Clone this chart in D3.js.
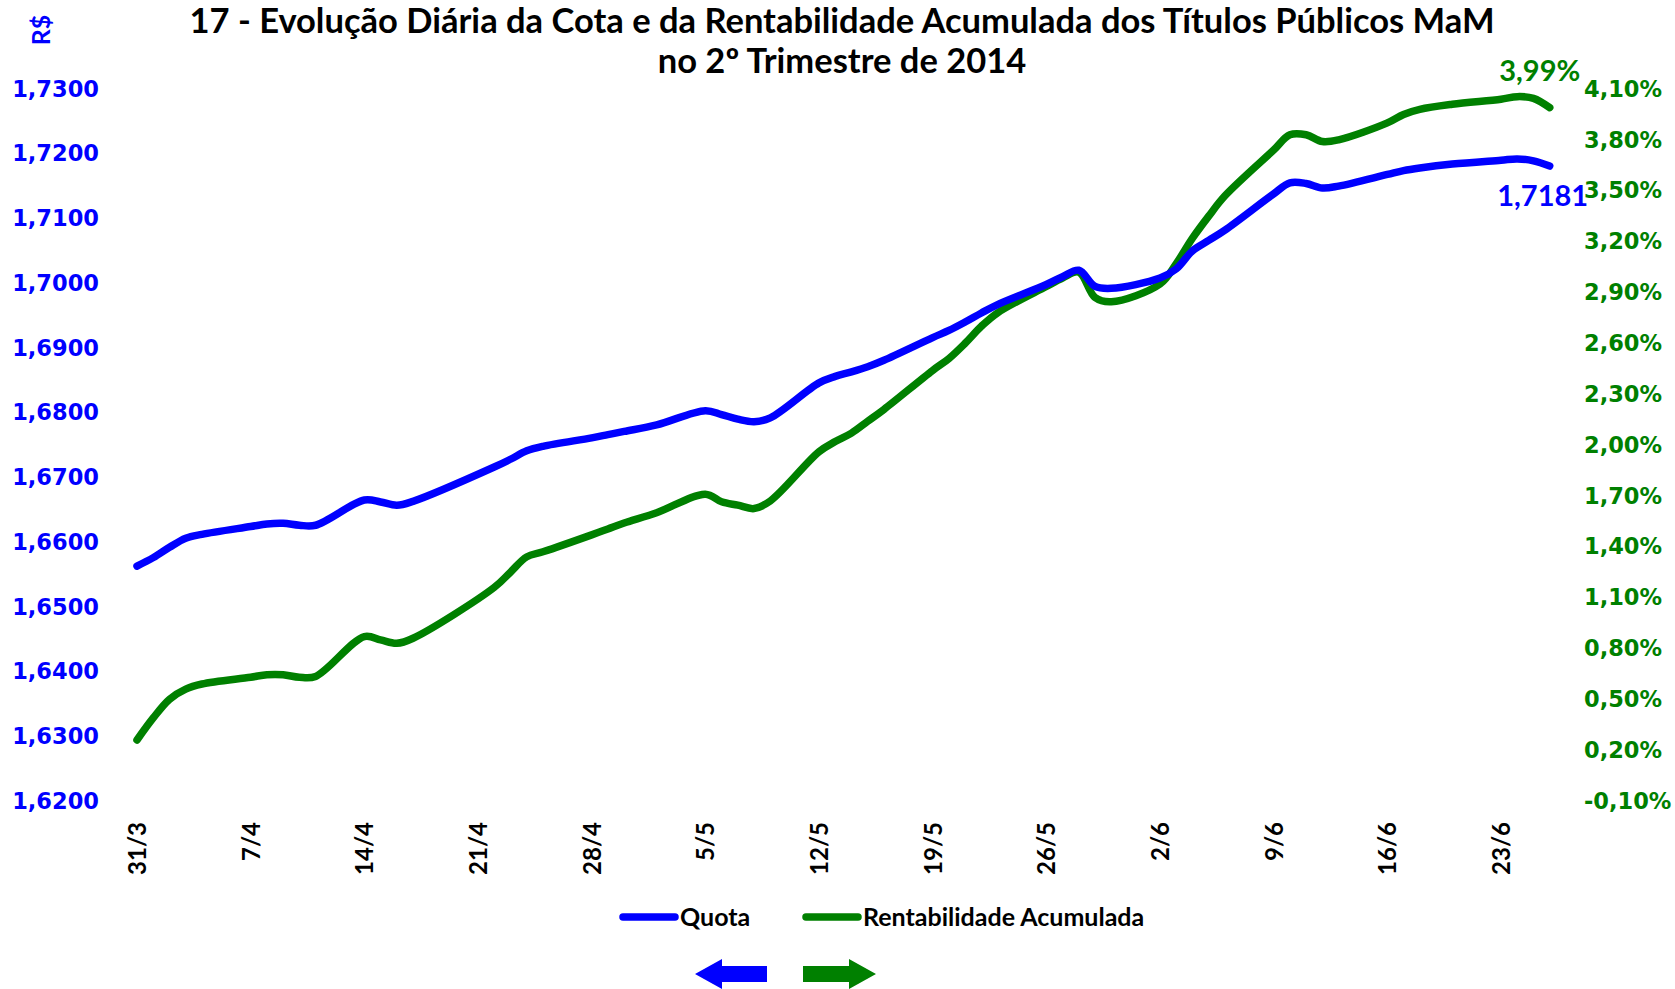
<!DOCTYPE html>
<html>
<head>
<meta charset="utf-8">
<script src="https://cdn.jsdelivr.net/npm/d3@7"></script>
<style>
  body { margin: 0; background: #fff; }
  svg { display: block; }
</style>
</head>
<body>
<script>
// business days of the quarter (dd/mm, 2014)
const dates = [
  "31/3","1/4","2/4","3/4","4/4","7/4","8/4","9/4","10/4","11/4",
  "14/4","15/4","16/4","17/4","22/4","23/4","24/4","25/4",
  "28/4","29/4","30/4","2/5","5/5","6/5","7/5","8/5","9/5",
  "12/5","13/5","14/5","15/5","16/5","19/5","20/5","21/5","22/5","23/5",
  "26/5","27/5","28/5","29/5","30/5","2/6","3/6","4/6","5/6","6/6",
  "9/6","10/6","11/6","12/6","13/6","16/6","17/6","18/6","20/6",
  "23/6","24/6","25/6","26/6"
];

// Quota (R$) - left axis
const quota = [
  1.6563,1.6576,1.6592,1.6606,1.6612,1.6624,1.6628,1.6629,1.6626,1.6626,
  1.6665,1.6662,1.6657,1.6663,1.6716,1.6728,1.6741,1.6748,
  1.6761,1.6766,1.6771,1.6781,1.6803,1.6797,1.6790,1.6786,1.6792,
  1.6846,1.6856,1.6863,1.6871,1.6881,1.6916,1.6927,1.6940,1.6954,1.6967,
  1.6998,1.7010,1.7020,1.6995,1.6992,1.7008,1.7022,1.7050,1.7066,1.7082,
  1.7138,1.7155,1.7154,1.7147,1.7150,1.7168,1.7174,1.7178,1.7184,
  1.7190,1.7192,1.7189,1.7181
];

// Rentabilidade Acumulada (%) - right axis
const rentab = [
  0.26,0.39,0.50,0.56,0.59,0.63,0.645,0.645,0.63,0.635,
  0.87,0.85,0.83,0.86,1.16,1.25,1.34,1.37,
  1.47,1.505,1.54,1.60,1.71,1.665,1.645,1.625,1.67,
  1.96,2.02,2.07,2.14,2.21,2.44,2.51,2.60,2.70,2.78,
  2.935,2.985,3.02,2.87,2.845,2.95,3.07,3.22,3.35,3.47,
  3.74,3.83,3.83,3.79,3.80,3.90,3.95,3.98,4.01,
  4.04,4.055,4.045,3.99
];

const xTicks = ["31/3","7/4","14/4","21/4","28/4","5/5","12/5","19/5","26/5","2/6","9/6","16/6","23/6"];
const leftTicks = [1.62,1.63,1.64,1.65,1.66,1.67,1.68,1.69,1.70,1.71,1.72,1.73];
const rightTicks = [-0.10,0.20,0.50,0.80,1.10,1.40,1.70,2.00,2.30,2.60,2.90,3.20,3.50,3.80,4.10];

const width = 1675, height = 989;
const blue = "#0000FF", green = "#008000";
const calibri = "Lato, 'Open Sans', sans-serif";
const verdana = "'DejaVu Sans', Verdana, sans-serif";

const locale = d3.formatLocale({decimal: ",", thousands: ".", grouping: [3], currency: ["R$ ", ""], minus: "-"});
const fmtQuota = locale.format(".4f");
const fmtPct = v => locale.format(".2f")(v) + "%";

const parse = d3.timeParse("%d/%m/%Y");
const toDate = s => parse(s + "/2014");

const svg = d3.select("body").append("svg")
  .attr("width", width)
  .attr("height", height);

const x = d3.scaleTime()
  .domain([toDate("31/3"), toDate("23/6")])
  .range([137, 1501]);

const yL = d3.scaleLinear()
  .domain([1.62, 1.73])
  .range([801, 89]);

const yR = d3.scaleLinear()
  .domain([-0.10, 4.10])
  .range([801, 89]);

// title
const title = svg.append("text")
  .attr("x", 842)
  .attr("y", 33)
  .attr("text-anchor", "middle")
  .style("font-family", calibri)
  .style("font-weight", "bold")
  .style("font-size", "34.5px");
title.append("tspan").attr("x", 842).text("17 - Evolução Diária da Cota e da Rentabilidade Acumulada dos Títulos Públicos MaM");
title.append("tspan").attr("x", 842).attr("dy", 40).text("no 2º Trimestre de 2014");

// R$ unit label
svg.append("text")
  .attr("transform", "translate(50,30) rotate(-90)")
  .attr("text-anchor", "middle")
  .style("font-family", calibri)
  .style("font-weight", "bold")
  .style("font-size", "25px")
  .style("fill", blue)
  .text("R$");

// left axis
svg.append("g")
  .attr("transform", "translate(99,0)")
  .call(d3.axisLeft(yL).tickValues(leftTicks).tickFormat(fmtQuota).tickSize(0).tickPadding(0))
  .call(g => g.select(".domain").remove())
  .selectAll("text")
  .style("font-family", verdana)
  .style("font-weight", "bold")
  .style("font-size", "22.5px")
  .style("fill", blue);

// right axis
svg.append("g")
  .attr("transform", "translate(1584,0)")
  .call(d3.axisRight(yR).tickValues(rightTicks).tickFormat(fmtPct).tickSize(0).tickPadding(0))
  .call(g => g.select(".domain").remove())
  .selectAll("text")
  .style("font-family", verdana)
  .style("font-weight", "bold")
  .style("font-size", "22.5px")
  .style("fill", green);

// x axis
svg.append("g")
  .attr("transform", "translate(0,801)")
  .call(d3.axisBottom(x).tickValues(xTicks.map(toDate)).tickFormat(d3.timeFormat("%-d/%-m")).tickSize(0))
  .call(g => g.select(".domain").remove())
  .selectAll("text")
  .attr("transform", "rotate(-90)")
  .attr("x", -21)
  .attr("y", 0)
  .attr("dy", "0.35em")
  .style("text-anchor", "end")
  .style("font-family", calibri)
  .style("font-weight", "bold")
  .style("font-size", "24px")
  .style("fill", "#000");

// lines
const rows = dates.map((d, i) => ({date: toDate(d), q: quota[i], r: rentab[i]}));

const lineQ = d3.line()
  .x(d => x(d.date))
  .y(d => yL(d.q))
  .curve(d3.curveCatmullRom.alpha(0.5));

const lineR = d3.line()
  .x(d => x(d.date))
  .y(d => yR(d.r))
  .curve(d3.curveCatmullRom.alpha(0.5));

svg.append("path")
  .datum(rows)
  .attr("d", lineR)
  .attr("fill", "none")
  .attr("stroke", green)
  .attr("stroke-width", 7.5)
  .attr("stroke-linecap", "round")
  .attr("stroke-linejoin", "round");

svg.append("path")
  .datum(rows)
  .attr("d", lineQ)
  .attr("fill", "none")
  .attr("stroke", blue)
  .attr("stroke-width", 7.5)
  .attr("stroke-linecap", "round")
  .attr("stroke-linejoin", "round");

// end labels
const last = rows[rows.length - 1];
svg.append("text")
  .attr("x", x(last.date) - 10)
  .attr("y", yR(last.r) - 27)
  .attr("text-anchor", "middle")
  .style("font-family", calibri)
  .style("font-weight", "bold")
  .style("font-size", "29px")
  .style("fill", green)
  .text(fmtPct(last.r));

svg.append("text")
  .attr("x", x(last.date) - 7)
  .attr("y", yL(last.q) + 40)
  .attr("text-anchor", "middle")
  .style("font-family", calibri)
  .style("font-weight", "bold")
  .style("font-size", "29px")
  .style("fill", blue)
  .text(fmtQuota(last.q));

// legend
const legend = [
  {label: "Quota", color: blue, x: 623},
  {label: "Rentabilidade Acumulada", color: green, x: 806}
];
const lg = svg.selectAll(".legend")
  .data(legend)
  .enter()
  .append("g")
  .attr("class", "legend")
  .attr("transform", d => `translate(${d.x},917)`);
lg.append("line")
  .attr("x1", 0).attr("x2", 52)
  .attr("stroke", d => d.color)
  .attr("stroke-width", 7.5)
  .attr("stroke-linecap", "round");
lg.append("text")
  .attr("x", 57)
  .attr("dy", "0.35em")
  .style("font-family", calibri)
  .style("font-weight", "bold")
  .style("font-size", "25px")
  .text(d => d.label);

// axis direction arrows
svg.append("polygon")
  .attr("points", "695,974 722,959 722,966 767,966 767,982 722,982 722,989")
  .attr("fill", blue);
svg.append("polygon")
  .attr("points", "803,966 849,966 849,959 876,974 849,989 849,982 803,982")
  .attr("fill", green);
</script>
</body>
</html>
